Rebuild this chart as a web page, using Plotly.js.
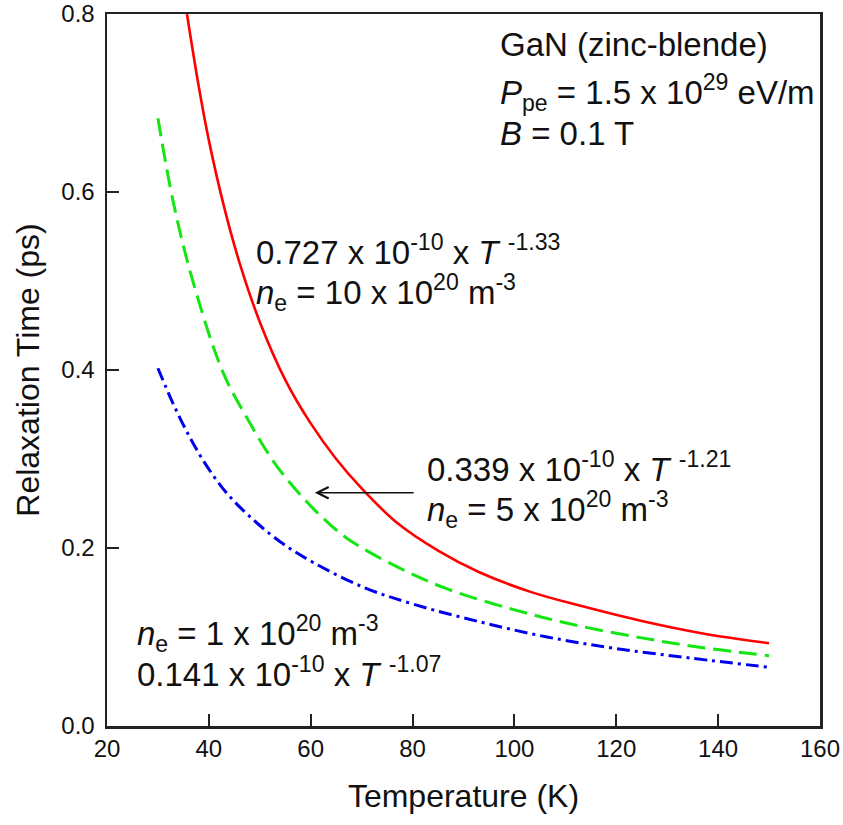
<!DOCTYPE html>
<html>
<head>
<meta charset="utf-8">
<script src="https://cdn.plot.ly/plotly-3.0.1.min.js"></script>
<style>html,body{margin:0;padding:0;background:#fff;}#chart{width:843px;height:825px;}</style>
</head>
<body>
<div id="chart"></div>
<script>
// Temperature (K) and relaxation time (ps)
var redT   = [35.7, 38, 40, 43, 46, 50, 55, 60, 65, 70, 77, 85, 93, 103, 113, 125, 137, 150];
var redTau = [0.800, 0.719, 0.658, 0.583, 0.521, 0.454, 0.389, 0.340, 0.300, 0.267, 0.228, 0.197, 0.173, 0.151, 0.135, 0.118, 0.104, 0.093];

var greenT   = [30, 33, 36.9, 42.8, 47.5, 52.6, 57.3, 61.8, 67.1, 76.9, 86.8, 99.7, 111.5, 125, 137, 150];
var greenTau = [0.683, 0.589, 0.499, 0.397, 0.346, 0.298, 0.264, 0.237, 0.211, 0.179, 0.154, 0.131, 0.114, 0.099, 0.088, 0.079];

var blueT   = [30, 33, 36.3, 39.6, 43.6, 48.1, 54, 60.4, 70.3, 80.1, 93.2, 106.4, 120, 135, 150];
var blueTau = [0.402, 0.362, 0.324, 0.292, 0.261, 0.235, 0.207, 0.184, 0.156, 0.137, 0.117, 0.100, 0.087, 0.076, 0.066];

var xTicks = [20, 40, 60, 80, 100, 120, 140, 160];
var yTicks = [0.0, 0.2, 0.4, 0.6, 0.8];

var FONT = 'Liberation Sans, Arial, sans-serif';
var annFont = {family: FONT, size: 33, color: '#111'};

var traces = [
  {x: redT, y: redTau, mode: 'lines', line: {color: '#ff0000', width: 2.6, shape: 'spline', smoothing: 1}, hoverinfo: 'skip'},
  {x: greenT, y: greenTau, mode: 'lines', line: {color: '#14e614', width: 3, dash: '18px,8px', shape: 'spline', smoothing: 1}, hoverinfo: 'skip'},
  {x: blueT, y: blueTau, mode: 'lines', line: {color: '#0000ee', width: 3, dash: '13px,5px,3px,5px', shape: 'spline', smoothing: 1}, hoverinfo: 'skip'}
];

function txt(text, px, py) {
  return {text: text, xref: 'paper', yref: 'paper', x: px, y: py, xanchor: 'left', yanchor: 'middle', showarrow: false, font: annFont, align: 'left'};
}
function paperX(p) { return (p - 107) / 713; }
function paperY(p) { return (726 - p) / 712; }

var annotations = [
  txt('GaN (zinc-blende)', paperX(498), paperY(45)),
  txt('<i>P</i><sub>pe</sub> = 1.5 x 10<sup>29</sup> eV/m', paperX(498), paperY(92)),
  txt('<i>B</i> = 0.1 T', paperX(498), paperY(134)),
  txt('0.727 x 10<sup>-10</sup> x <i>T</i> <sup>-1.33</sup>', paperX(254), paperY(250)),
  txt('<i>n</i><sub>e</sub> = 10 x 10<sup>20</sup> m<sup>-3</sup>', paperX(254), paperY(292)),
  txt('0.339 x 10<sup>-10</sup> x <i>T</i> <sup>-1.21</sup>', paperX(425), paperY(467)),
  txt('<i>n</i><sub>e</sub> = 5 x 10<sup>20</sup> m<sup>-3</sup>', paperX(425), paperY(510)),
  txt('<i>n</i><sub>e</sub> = 1 x 10<sup>20</sup> m<sup>-3</sup>', paperX(135), paperY(633)),
  txt('0.141 x 10<sup>-10</sup> x <i>T</i> <sup>-1.07</sup>', paperX(135), paperY(672)),
  {x: 60.8, y: 0.262, ax: 80.5, ay: 0.262, xref: 'x', yref: 'y', axref: 'x', ayref: 'y', text: '', showarrow: true,
   arrowhead: 5, arrowsize: 1.6, arrowwidth: 1.4, arrowcolor: '#111'}
];

var axisCommon = {
  showgrid: false, zeroline: false, showline: true, linecolor: '#222', linewidth: 2.5, mirror: true,
  ticks: 'inside', ticklen: 12, tickwidth: 2, tickcolor: '#222',
  tickfont: {family: FONT, size: 24, color: '#111'}
};

var layout = {
  width: 843, height: 825,
  margin: {l: 107, r: 23, t: 14, b: 99, pad: 0},
  paper_bgcolor: '#fff', plot_bgcolor: '#fff',
  showlegend: false,
  xaxis: Object.assign({}, axisCommon, {
    range: [20, 160], tickmode: 'array', tickvals: xTicks, ticktext: xTicks.map(String),
    title: {text: 'Temperature (K)', font: {family: FONT, size: 32, color: '#111'}, standoff: 24}
  }),
  yaxis: Object.assign({}, axisCommon, {
    range: [0, 0.8], tickmode: 'array', tickvals: yTicks, ticktext: yTicks.map(function(v){return v.toFixed(1);}),
    ticklabelstandoff: 5,
    title: {text: 'Relaxation Time (ps)', font: {family: FONT, size: 32, color: '#111'}, standoff: 12}
  }),
  annotations: annotations
};

Plotly.newPlot('chart', traces, layout, {staticPlot: true, displayModeBar: false});
</script>
</body>
</html>
